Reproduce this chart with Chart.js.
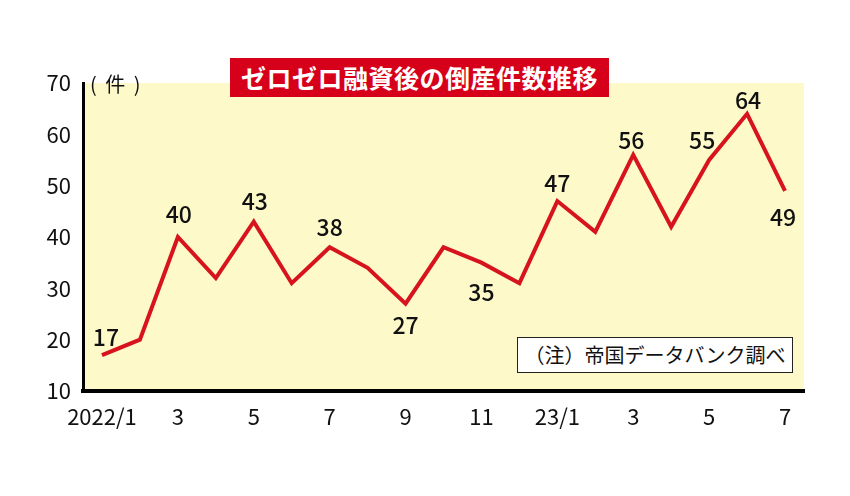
<!DOCTYPE html>
<html lang="ja">
<head>
<meta charset="utf-8">
<script src="https://cdn.jsdelivr.net/npm/chart.js@4/dist/chart.umd.min.js"></script>
<style>
    html, body { margin: 0; padding: 0; background: #fff; }
    #wrap { position: relative; width: 850px; height: 496px; font-family: "Noto Sans CJK JP", sans-serif; }
    #title {
        position: absolute; left: 230px; top: 58px; width: 379px; height: 39px;
        background: #d7001b; color: #fff; font-weight: 700; font-size: 25px;
        line-height: 39px; text-align: center; letter-spacing: 0.5px;
    }
    #unit { position: absolute; left: 90px; top: 69px; font-size: 20px; color: #111; letter-spacing: 2px; }
    #note {
        position: absolute; left: 517px; top: 337px; width: 274px; height: 34px;
        background: #fff; border: 1px solid #222; font-size: 20px; line-height: 34px;
        text-align: center; color: #111;
    }
</style>
</head>
<body>
<div id="wrap">
    <canvas id="bankruptChart" width="850" height="496"></canvas>
    <div id="title">ゼロゼロ融資後の倒産件数推移</div>
    <div id="unit">( 件 )</div>
    <div id="note">（注）帝国データバンク調べ</div>
</div>
<script>
// 月別の倒産件数（2022/1〜2023/7）
const months = ['2022/1', '', '3', '', '5', '', '7', '', '9', '', '11', '', '23/1', '', '3', '', '5', '', '7'];
const counts = [17, 20, 40, 32, 43, 31, 38, 34, 27, 38, 35, 31, 47, 41, 56, 42, 55, 64, 49];
const yTicks = [10, 20, 30, 40, 50, 60, 70];

// 数値ラベルを付ける点と、その位置のずれ [dx, dy]
const labelOffsets = {
    0: [4, -18], 2: [1, -23], 4: [1, -20], 6: [0, -20], 8: [0, 22], 10: [0, 30],
    12: [0, -18], 14: [-2, -15], 16: [-7, -20], 17: [1, -14], 18: [-2, 26]
};

document.addEventListener('DOMContentLoaded', function () {
    renderChart();
});

const creamArea = {
    id: 'creamArea',
    beforeDraw(chart) {
        const { ctx, chartArea: a } = chart;
        ctx.save();
        ctx.fillStyle = '#fdf9c8';
        ctx.fillRect(a.left, a.top, a.right - a.left, a.bottom - a.top);
        ctx.restore();
    }
};

const valueLabels = {
    id: 'valueLabels',
    afterDatasetsDraw(chart) {
        const ctx = chart.ctx;
        const meta = chart.getDatasetMeta(0);
        ctx.save();
        ctx.font = '500 23px "Noto Sans CJK JP", sans-serif';
        ctx.fillStyle = '#111';
        ctx.textAlign = 'center';
        ctx.textBaseline = 'middle';
        Object.keys(labelOffsets).forEach(function (k) {
            const i = Number(k);
            const pt = meta.data[i];
            const off = labelOffsets[k];
            ctx.fillText(String(counts[i]), pt.x + off[0], pt.y + off[1]);
        });
        ctx.restore();
    }
};

function renderChart() {
    const ctx = document.getElementById('bankruptChart').getContext('2d');
    new Chart(ctx, {
        type: 'line',
        data: {
            labels: months,
            datasets: [{
                data: counts,
                borderColor: '#d7141e',
                borderWidth: 4,
                pointRadius: 0,
                tension: 0,
                borderJoinStyle: 'miter'
            }]
        },
        options: {
            responsive: false,
            animation: false,
            layout: { padding: { left: 0, right: 46, top: 83, bottom: 50 } },
            plugins: { legend: { display: false }, title: { display: false }, tooltip: { enabled: false } },
            scales: {
                x: {
                    offset: true,
                    grid: { display: false, drawTicks: false },
                    border: { display: true, color: '#000', width: 4 },
                    ticks: {
                        autoSkip: false, maxRotation: 0, padding: 12, color: '#111',
                        font: { family: '"Noto Sans CJK JP", sans-serif', size: 22 }
                    },
                    afterFit(scale) { scale.height = 55; }
                },
                y: {
                    min: 10, max: 70,
                    afterBuildTicks(scale) { scale.ticks = yTicks.map(v => ({ value: v })); },
                    grid: { display: false, drawTicks: false },
                    border: { display: true, color: '#000', width: 3 },
                    ticks: {
                        padding: 12, color: '#111',
                        font: { family: '"Noto Sans CJK JP", sans-serif', size: 22 }
                    },
                    afterFit(scale) { scale.width = 83; }
                }
            }
        },
        plugins: [creamArea, valueLabels]
    });
}
</script>
</body>
</html>
